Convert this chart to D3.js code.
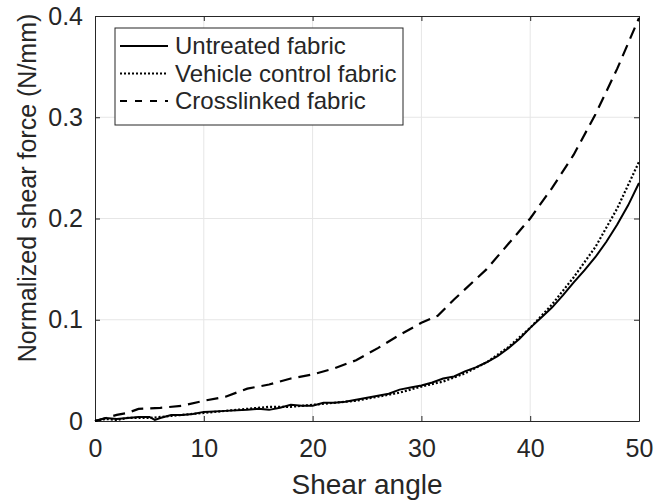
<!DOCTYPE html>
<html>
<head>
<meta charset="utf-8">
<script src="https://cdn.jsdelivr.net/npm/d3@7"></script>
<style>
  body { margin: 0; background: #fff; }
  svg text { font-family: "Liberation Sans", Arial, sans-serif; fill: #262626; }
</style>
</head>
<body>
<script>
'use strict';

// values
const untreatedX = [0, 1, 2, 3, 4, 5, 5.5, 6, 7, 8, 9, 10, 12, 14, 15, 16, 17, 18, 19, 20, 21, 22, 23, 24, 26, 27, 28, 29, 30, 31, 32, 33, 34, 35, 36, 37, 38, 39, 40, 41, 42, 43, 44, 45, 46, 47, 48, 49, 50];
const untreatedY = [0, 0.003, 0.002, 0.003, 0.004, 0.004, 0.001, 0.003, 0.006, 0.006, 0.007, 0.009, 0.010, 0.011, 0.012, 0.011, 0.013, 0.016, 0.015, 0.015, 0.018, 0.018, 0.019, 0.021, 0.025, 0.027, 0.031, 0.033, 0.035, 0.038, 0.042, 0.044, 0.049, 0.053, 0.058, 0.064, 0.072, 0.081, 0.092, 0.102, 0.112, 0.124, 0.137, 0.149, 0.162, 0.177, 0.194, 0.213, 0.235];

const vehicleX = [0, 1, 2, 3, 5, 7, 10, 12, 14, 16, 18, 20, 22, 24, 26, 28, 30, 32, 34, 36, 38, 40, 42, 44, 46, 48, 50];
const vehicleY = [0, 0.002, 0.001, 0.003, 0.003, 0.005, 0.008, 0.010, 0.012, 0.014, 0.014, 0.016, 0.018, 0.020, 0.024, 0.028, 0.034, 0.039, 0.047, 0.058, 0.073, 0.092, 0.115, 0.142, 0.172, 0.210, 0.256];

const crossX = [0, 1, 2, 3, 4, 6, 8, 10, 12, 14, 16, 18, 20, 22, 24, 25, 26, 28, 30, 31.5, 33, 34, 36, 38, 40, 42, 44, 46, 48, 50];
const crossY = [0, 0.003, 0.006, 0.008, 0.012, 0.013, 0.015, 0.020, 0.024, 0.032, 0.036, 0.042, 0.046, 0.052, 0.060, 0.066, 0.072, 0.085, 0.097, 0.104, 0.120, 0.130, 0.150, 0.175, 0.200, 0.230, 0.263, 0.303, 0.348, 0.398];

const seriesNames = ["Untreated fabric", "Vehicle control fabric", "Crosslinked fabric"];
const xTicks = [0, 10, 20, 30, 40, 50];
const yTicks = [0, 0.1, 0.2, 0.3, 0.4];

const W = 654, H = 504;
const margin = {top: 16, right: 15, bottom: 83, left: 95};
const width = W - margin.left - margin.right;
const height = H - margin.top - margin.bottom;

const svg = d3.select('body').append('svg')
  .attr('width', W)
  .attr('height', H);

const xScale = d3.scaleLinear().domain([0, 50]).range([0, width]);
const yScale = d3.scaleLinear().domain([0, 0.4]).range([height, 0]);

const g = svg.append('g')
  .attr('transform', 'translate(' + margin.left + ',' + margin.top + ')');

// grid
g.append('g').selectAll('line').data(xTicks.slice(1, -1)).enter().append('line')
  .attr('x1', d => xScale(d)).attr('x2', d => xScale(d))
  .attr('y1', 0).attr('y2', height)
  .attr('stroke', '#e6e6e6').attr('stroke-width', 1);
g.append('g').selectAll('line').data(yTicks.slice(1, -1)).enter().append('line')
  .attr('y1', d => yScale(d)).attr('y2', d => yScale(d))
  .attr('x1', 0).attr('x2', width)
  .attr('stroke', '#e6e6e6').attr('stroke-width', 1);

// axes (ticks pointing inward, box on)
function styleAxis(sel) {
  sel.select('.domain').attr('stroke', '#262626');
  sel.selectAll('.tick line').attr('stroke', '#262626');
  sel.selectAll('.tick text').style('font-size', '25px').attr('fill', '#262626');
}

g.append('g')
  .attr('transform', 'translate(0,' + height + ')')
  .call(d3.axisBottom(xScale).tickValues(xTicks).tickSizeInner(-5).tickSizeOuter(0).tickPadding(18))
  .call(styleAxis);

g.append('g')
  .call(d3.axisLeft(yScale).tickValues(yTicks).tickFormat(d => d === 0 ? '0' : d3.format('.1f')(d))
    .tickSizeInner(-5).tickSizeOuter(0).tickPadding(12))
  .call(styleAxis);

g.append('g')
  .call(d3.axisTop(xScale).tickValues(xTicks).tickSizeInner(-5).tickSizeOuter(0).tickFormat(''))
  .call(styleAxis);

g.append('g')
  .attr('transform', 'translate(' + width + ',0)')
  .call(d3.axisRight(yScale).tickValues(yTicks).tickSizeInner(-5).tickSizeOuter(0).tickFormat(''))
  .call(styleAxis);

// data lines
const line = d3.line()
  .x(d => xScale(d[0]))
  .y(d => yScale(d[1]));

const seriesData = [
  {pts: d3.zip(untreatedX, untreatedY), dash: null, legendDash: null, width: 2},
  {pts: d3.zip(vehicleX, vehicleY), dash: '2,2', legendDash: '2,2', width: 2.2},
  {pts: d3.zip(crossX, crossY), dash: '12,7', legendDash: '7,8', width: 2.2}
];

seriesData.forEach(s => {
  g.append('path')
    .datum(s.pts)
    .attr('d', line)
    .attr('fill', 'none')
    .attr('stroke', '#000')
    .attr('stroke-width', s.width)
    .attr('stroke-dasharray', s.dash);
});

// legend
const legend = svg.append('g').attr('transform', 'translate(115,28)');
legend.append('rect')
  .attr('x', 0).attr('y', 0)
  .attr('width', 288).attr('height', 97)
  .attr('fill', '#fff')
  .attr('stroke', '#262626')
  .attr('stroke-width', 1);

seriesNames.forEach((name, i) => {
  const y = 18 + i * 27.5;
  legend.append('line')
    .attr('x1', 5).attr('x2', 53)
    .attr('y1', y).attr('y2', y)
    .attr('stroke', '#000')
    .attr('stroke-width', seriesData[i].width)
    .attr('stroke-dasharray', seriesData[i].legendDash);
  legend.append('text')
    .attr('x', 60).attr('y', y)
    .attr('dy', '0.35em')
    .style('font-size', '24px')
    .text(name);
});

// axis labels
svg.append('text')
  .attr('x', margin.left + width / 2)
  .attr('y', 494)
  .attr('text-anchor', 'middle')
  .style('font-size', '28px')
  .text('Shear angle');

svg.append('text')
  .attr('transform', 'translate(36,188)rotate(-90)')
  .attr('text-anchor', 'middle')
  .style('font-size', '25px')
  .text('Normalized shear force (N/mm)');
</script>
</body>
</html>
